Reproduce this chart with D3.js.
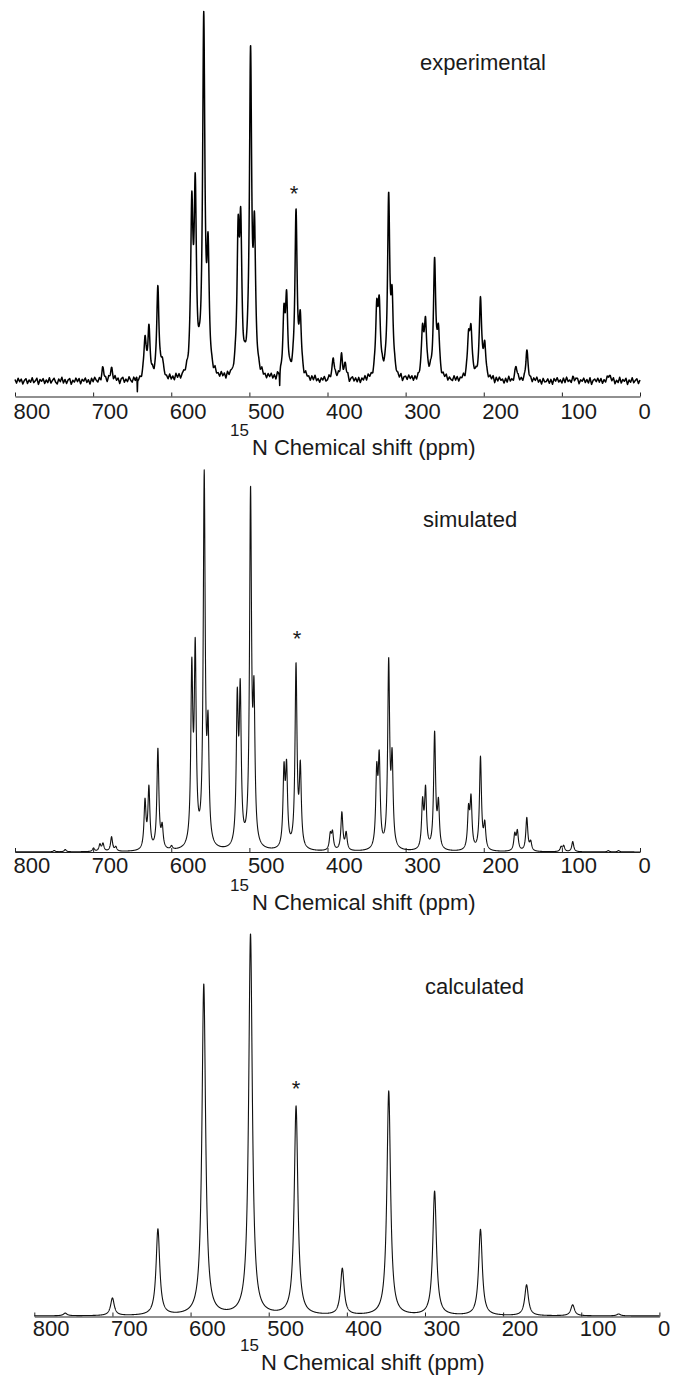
<!DOCTYPE html>
<html>
<head>
<meta charset="utf-8">
<script src="https://cdnjs.cloudflare.com/ajax/libs/d3/7.8.5/d3.min.js"></script>
<style>
	body { margin: 0; background: #fff; }
	svg { display: block; }
	text { font-family: "Liberation Sans", Arial, Helvetica, sans-serif; fill: #1a1a1a; }
</style>
</head>
<body>
<svg id="chart" width="673" height="1378"></svg>
<script>
// tick values on every shift axis (ppm)
var ppmTicks = [800, 700, 600, 500, 400, 300, 200, 100, 0];

// experimental peaks: [ppm, intensity] (tallest ~100)
var expPeaks = [
	[687.4, 3], [676.4, 3.5], [633.6, 10.5], [628.6, 13.5], [617.1, 25], [611.6, 4],
	[573.7, 44], [569.3, 48], [558.4, 96], [552.9, 31], [514.4, 35], [511.1, 38],
	[498.5, 86], [493.5, 36], [455.7, 16], [452.4, 19.5], [440.3, 44], [434.8, 15],
	[392.6, 6.3], [382.1, 6.5], [377.2, 3.8], [337.0, 17], [333.8, 19], [321.7, 48],
	[317.3, 19], [278.3, 12.5], [274.5, 14.8], [262.9, 32], [258.0, 12], [219.5, 10.5],
	[216.3, 12.8], [204.2, 22.5], [198.7, 9], [158.6, 3.7], [144.9, 8], [85.0, 1.2], [39.5, 1.5]
];
// two downward spikes in the experimental trace
var expSpikes = [[643.4, -4.2], [461.2, -4.2]];
// baseline noise of the experimental trace, every 2 ppm from 800 down to 0 (tenths of a unit)
var expNoise = [
	3,-5,6,-2,4,-7,1,5,-6,2,-3,7,-4,0,6,-8,3,-1,5,-6,
	2,-4,7,-5,1,6,-3,-7,4,-2,8,-5,3,-6,2,5,-8,1,-3,6,
	-2,5,-7,3,-1,6,-4,2,-8,5,-3,7,0,-5,4,-6,8,-2,3,-7,
	5,-3,1,-6,7,-2,4,-8,3,6,-5,2,-4,7,-1,-6,5,-3,8,-4,
	1,-7,4,-2,6,-5,3,-1,7,-6,2,5,-8,4,-3,6,-2,1,-5,7,
	-4,3,-6,8,-2,5,-7,1,4,-3,6,-8,2,-5,7,-1,3,-6,5,-2,
	6,-4,2,-7,5,-1,3,-6,8,-3,1,-5,7,-2,4,-8,6,-4,2,-1,
	-5,7,-3,4,-6,2,-8,5,-1,6,-4,3,-7,1,5,-2,4,-6,8,-3,
	2,-6,5,-1,7,-4,3,-8,6,-2,4,-5,1,-7,8,-3,2,-5,6,-4,
	7,-2,4,-5,3,-8,6,-1,2,-6,5,-3,8,-4,1,-7,3,-2,6,-5,
	-3,6,-4,2,-7,5,-1,8,-5,3,-6,4,-2,7,-8,1,5,-4,3,-6,
	4,-8,2,-3,6,-5,7,-1,3,-7,5,-2,4,-6,1,8,-4,2,-5,3,
	-6,3,-2,7,-4,1,-5,6,-8,2,4,-3,7,-1,5,-6,3,-7,2,-4,
	5,-1,6,-7,3,-4,8,-2,1,-5,6,-3,2,-8,4,-1,7,-5,3,-2,
	-4,7,-3,5,-6,2,-1,6,-7,4,-2,8,-5,3,-1,6,-4,2,-8,5,
	3,-5,1,-6,4,-2,7,-8,5,-3,6,-1,2,-7,4,-5,8,-3,1,-6,
	6,-3,5,-4,2,-7,1,-5,8,-2,3,-6,4,-1,7,-4,2,-8,5,-3,
	-2,4,-6,3,-8,5,-1,7,-3,2,-5,6,-4,8,-2,1,-6,3,-7,4,
	5,-7,2,-1,6,-4,3,-5,7,-8,1,4,-2,6,-3,5,-6,2,-4,7,
	-3,5,-2,6,-7,1,-4,8,-5,3,-1,6,-8,2,-3,7,-4,1,5,-6,
	2
];

// simulated peaks
var simPeaks = [
	[749.8, 0.35], [735.7, 0.6], [699.5, 0.9], [691.3, 1.8], [687.4, 2.0], [676.4, 3.8],
	[671.0, 1.1], [633.6, 12.5], [628.6, 16], [617.1, 26.5], [611.6, 5.5], [599.6, 0.9],
	[573.7, 45], [569.3, 50], [557.8, 97], [552.9, 28], [515.5, 37], [511.7, 39],
	[498.5, 92], [494.1, 36], [455.7, 19.5], [452.4, 20], [440.3, 48], [434.8, 20.5],
	[396.4, 4], [393.6, 4.5], [381.6, 10], [376.1, 4.5], [337.0, 19], [333.8, 22.5],
	[321.7, 48.5], [317.3, 22], [278.3, 12], [274.5, 15.3], [262.9, 30.5], [258.0, 11.5],
	[219.5, 10], [216.3, 13], [204.2, 24.5], [198.7, 6.5], [160.3, 4.2], [157.0, 5],
	[144.9, 8.8], [139.9, 2.3], [101.0, 1.2], [97.7, 1.5], [86.1, 2.7], [40.6, 0.35], [27.4, 0.35]
];

// calculated sideband manifold
var calcPeaks = [
	[760.4, 0.7], [700.0, 4.6], [641.8, 22.6], [583.1, 86.9], [523.3, 100], [465.0, 54.8],
	[405.8, 12.2], [346.4, 58.9], [287.7, 32.6], [229.0, 22.6], [170.0, 8.1], [111.0, 2.9], [52.2, 0.5]
];

var panels = [
	{ label: 'experimental', peaks: expPeaks, spikes: expSpikes, noise: expNoise, noiseStep: 2, hwhm: 1.7,
		left: 15, right: 640, axisY: 396.5, baseY: 381, topY: 13, stroke: 1.5, color: '#000',
		labelX: 420, labelY: 70, starX: 294, starY: 201, tickBase: 22.5,
		titleX: 230, titleY: 455, titleGap: 3 },
	{ label: 'simulated', peaks: simPeaks, hwhm: 1.5,
		left: 15, right: 640, axisY: 852, baseY: 852, topY: 473, stroke: 1.1, color: '#111',
		labelX: 423, labelY: 527, starX: 297, starY: 646, tickBase: 21,
		titleX: 230, titleY: 910, titleGap: 3 },
	{ label: 'calculated', peaks: calcPeaks, hwhm: 2.8,
		left: 34.3, right: 659.4, axisY: 1316.5, baseY: 1316, topY: 935, stroke: 1.1, color: '#111',
		labelX: 425, labelY: 994, starX: 296, starY: 1096, tickBase: 19.5,
		titleX: 240, titleY: 1370, titleGap: 2 }
];

var svg = d3.select('#chart');
var fontSize = 22;

panels.forEach(drawPanel);

function lorentz(ppm, peaks, w) {
	var i, d, s = 0;
	for (i = peaks.length; i--;) {
		d = (ppm - peaks[i][0]) / w;
		s += peaks[i][1] / (1 + d * d);
	}
	return s;
}

function noiseAt(ppm, noise, step) {
	var pos = (800 - ppm) / step,
		i = Math.floor(pos),
		f = pos - i;
	if (i >= noise.length - 1) {
		return noise[noise.length - 1] * 0.12;
	}
	return (noise[i] * (1 - f) + noise[i + 1] * f) * 0.12;
}

function drawPanel(p) {
	var x, y, g, axis, pts, ppm, v, line, t;

	x = d3.scaleLinear().domain([800, 0]).range([p.left, p.right]);
	y = d3.scaleLinear().domain([0, 100]).range([p.baseY, p.topY]);

	g = svg.append('g').attr('class', 'panel');

	// spectrum trace
	pts = [];
	for (ppm = 800; ppm >= -0.001; ppm -= 0.2) {
		v = lorentz(ppm, p.peaks, p.hwhm);
		if (p.spikes) {
			v += lorentz(ppm, p.spikes, 0.3);
		}
		if (p.noise) {
			v += noiseAt(ppm, p.noise, p.noiseStep);
		}
		pts.push([ppm, v]);
	}
	line = d3.line()
		.x(function(d) { return x(d[0]); })
		.y(function(d) { return y(d[1]); });
	g.append('path')
		.datum(pts)
		.attr('d', line)
		.attr('fill', 'none')
		.attr('stroke', p.color)
		.attr('stroke-width', p.stroke)
		.attr('stroke-linejoin', 'round');

	// shift axis, ticks pointing up, labels hung from the tick
	axis = d3.axisBottom(x)
		.tickValues(ppmTicks)
		.tickFormat(d3.format('d'))
		.tickSize(-4)
		.tickSizeOuter(0)
		.tickPadding(p.tickBase - 0.71 * fontSize);
	g.append('g')
		.attr('transform', 'translate(0,' + p.axisY + ')')
		.call(axis)
		.call(function(a) {
			a.attr('font-family', null).attr('font-size', fontSize);
			a.select('.domain').attr('stroke', '#222').attr('stroke-width', 1.1);
			a.selectAll('.tick line').attr('stroke', '#222');
			a.selectAll('.tick text')
				.attr('text-anchor', 'start')
				.attr('x', -2)
				.attr('fill', '#1a1a1a');
		});

	// axis title with superscript
	t = g.append('text')
		.attr('x', p.titleX)
		.attr('y', p.titleY)
		.attr('font-size', fontSize);
	t.append('tspan').attr('font-size', 17).attr('dy', -19).text('15');
	t.append('tspan').attr('dy', 19).attr('dx', p.titleGap).text('N Chemical shift (ppm)');

	// panel name
	g.append('text')
		.attr('x', p.labelX)
		.attr('y', p.labelY)
		.attr('font-size', fontSize)
		.text(p.label);

	// asterisk marker
	g.append('text')
		.attr('x', p.starX)
		.attr('y', p.starY)
		.attr('text-anchor', 'middle')
		.attr('font-size', fontSize)
		.text('*');
}
</script>
</body>
</html>
